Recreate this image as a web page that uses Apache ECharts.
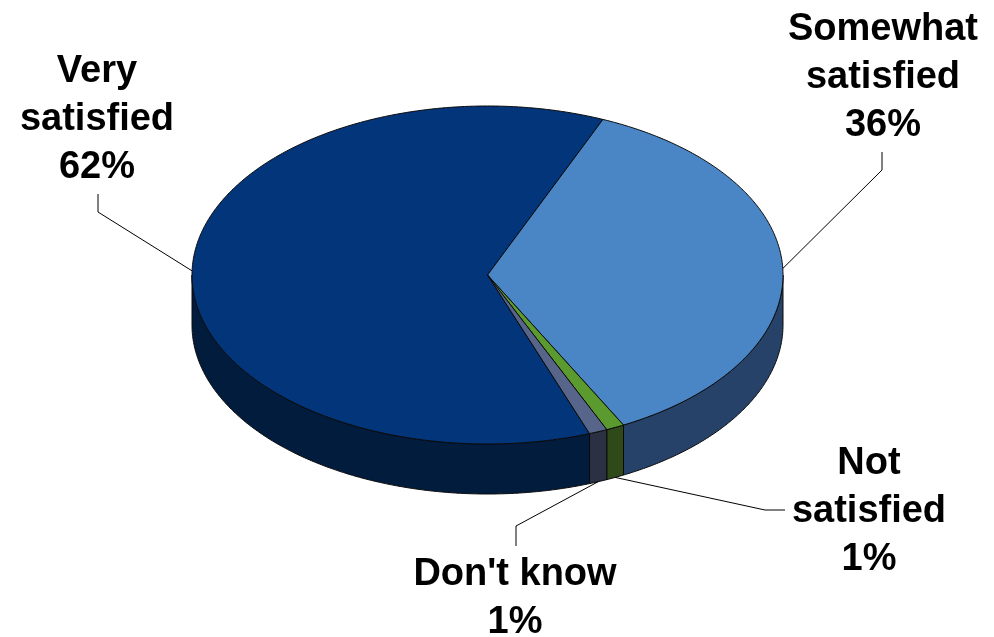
<!DOCTYPE html>
<html>
<head>
<meta charset="utf-8">
<script src="https://cdn.jsdelivr.net/npm/echarts@6/dist/echarts.min.js"></script>
<style>
  html, body { margin: 0; padding: 0; background: #ffffff; }
  #chart { width: 994px; height: 637px; }
</style>
</head>
<body>
<div id="chart"></div>
<script>
// Survey result: overall satisfaction
const categories = ['Very satisfied', 'Somewhat satisfied', 'Not satisfied', "Don't know"];
const shares = [62, 36, 1, 1];
const labelLines = ['Very\nsatisfied', 'Somewhat\nsatisfied', 'Not\nsatisfied', "Don't know"];

const topColors = ['#03357A', '#4A86C5', '#5A9A2E', '#566589'];
const sideColors = ['#021C3E', '#264268', '#2F4A18', '#2B3043'];

// Tilted-disc geometry (pixels) and rotation of the first slice (degrees, clockwise from 3 o'clock)
const disc = { cx: 487.5, cy: 275, rx: 295.5, ry: 169, depth: 50, startDeg: 69.8 };

// Callout placement: text centre, leader elbow and leader end
const callouts = [
  { text: [97, 120], elbow: [98, 212], end: [98, 194] },
  { text: [883, 78], elbow: [882, 170], end: [882, 152] },
  { text: [869, 512], elbow: [765, 510], end: [785, 510] },
  { text: [515, 599], elbow: [516, 526], end: [516, 546] }
];

const total = shares.reduce((a, b) => a + b, 0);
const ranges = [];
let acc = disc.startDeg;
shares.forEach(v => {
  const span = v / total * 360;
  ranges.push([acc, acc + span]);
  acc += span;
});

const rad = d => d * Math.PI / 180;
const rim = (d, drop) => [
  disc.cx + disc.rx * Math.cos(rad(d)),
  disc.cy + disc.ry * Math.sin(rad(d)) + (drop || 0)
];
const arc = (a, b, drop) => {
  const pts = [];
  const n = Math.max(2, Math.ceil(Math.abs(b - a) / 0.5));
  for (let i = 0; i <= n; i++) pts.push(rim(a + (b - a) * i / n, drop));
  return pts;
};

function renderSlice(params, api) {
  const i = params.dataIndex;
  const [a, b] = ranges[i];
  const children = [];

  // visible outer wall: the part of the slice facing the viewer (0..180 deg)
  [-360, 0, 360].forEach(k => {
    const s = Math.max(a, k), e = Math.min(b, k + 180);
    if (e > s) {
      const upper = arc(s, e, 0);
      const lower = arc(s, e, disc.depth).reverse();
      children.push({
        type: 'polygon',
        shape: { points: upper.concat(lower) },
        style: { fill: sideColors[i], stroke: '#0a0a0a', lineWidth: 1, lineJoin: 'round' },
        z2: 1
      });
    }
  });

  // top face
  children.push({
    type: 'polygon',
    shape: { points: [[disc.cx, disc.cy]].concat(arc(a, b, 0)) },
    style: { fill: topColors[i], stroke: '#0a0a0a', lineWidth: 1, lineJoin: 'round' },
    z2: 2
  });

  // leader line from the slice to its callout
  const mid = (a + b) / 2;
  const front = Math.sin(rad(mid)) > 0;
  const anchor = rim(mid, front ? disc.depth : 0);
  const c = callouts[i];
  children.push({
    type: 'polyline',
    shape: { points: [anchor, c.elbow, c.end] },
    style: { stroke: '#000', lineWidth: 1, fill: null },
    z2: 3
  });

  children.push({
    type: 'text',
    style: {
      text: labelLines[i] + '\n' + api.value(0) + '%',
      x: c.text[0],
      y: c.text[1],
      align: 'center',
      verticalAlign: 'middle',
      font: 'bold 38px "Liberation Sans", Arial, sans-serif',
      lineHeight: 48,
      fill: '#000'
    },
    z2: 4
  });

  return { type: 'group', children };
}

const chart = echarts.init(document.getElementById('chart'), null, { renderer: 'canvas' });
chart.setOption({
  animation: false,
  backgroundColor: '#ffffff',
  series: [{
    type: 'custom',
    coordinateSystem: 'none',
    renderItem: renderSlice,
    data: categories.map((name, i) => ({ name, value: [shares[i]] }))
  }]
});
</script>
</body>
</html>
